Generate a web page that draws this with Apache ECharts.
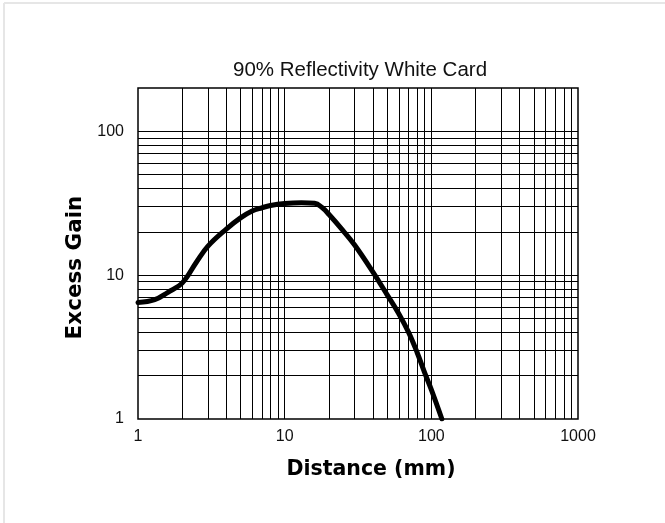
<!DOCTYPE html>
<html>
<head>
<meta charset="utf-8">
<script src="https://cdn.jsdelivr.net/npm/echarts@6/dist/echarts.min.js"></script>
<style>
html,body{margin:0;padding:0;background:#fff;}
#chart{width:665px;height:523px;}
</style>
</head>
<body>
<div id="chart"></div>
<script>
// Data
var distance = [1, 1.3, 1.6, 2, 2.5, 3, 4, 5, 6, 7, 8, 10, 13, 16, 18, 20, 25, 30, 40, 50, 60, 70, 80, 90, 100, 118];
var excessGain = [6.45, 6.75, 7.6, 8.8, 12.3, 15.9, 20.9, 25, 27.9, 29.4, 30.5, 31.5, 31.9, 31.6, 29.5, 26.5, 20.4, 16.2, 10.5, 7.3, 5.4, 4.0, 2.9, 2.1, 1.6, 1];
var xGridValues = [2,3,4,5,6,7,8,9,10,20,30,40,50,60,70,80,90,100,200,300,400,500,600,700,800,900];
var yGridValues = [2,3,4,5,6,7,8,9,10,20,30,40,50,60,70,80,90,100];
var xTickLabels = [1, 10, 100, 1000];
var yTickLabels = [1, 10, 100];

var chart = echarts.init(document.getElementById('chart'), null, {renderer: 'canvas'});

function labelFmt(list) {
  return function (v) {
    for (var i = 0; i < list.length; i++) {
      if (Math.abs(v - list[i]) < 1e-6 * list[i]) return String(list[i]);
    }
    return '';
  };
}

var gridLines = [];
xGridValues.forEach(function (v) { gridLines.push({xAxis: v}); });
yGridValues.forEach(function (v) { gridLines.push({yAxis: v}); });

var option = {
  backgroundColor: '#fff',
  animation: false,
  title: {
    text: '90% Reflectivity White Card',
    left: 228,
    top: 55,
    textStyle: {fontFamily: 'Liberation Sans, Arial, sans-serif', fontSize: 20.5, fontWeight: 'normal', color: '#111'}
  },
  graphic: [
    {type: 'line', shape: {x1: 4, y1: 3, x2: 665, y2: 3}, style: {stroke: '#e6e6e6', lineWidth: 2}, silent: true},
    {type: 'line', shape: {x1: 4, y1: 3, x2: 4, y2: 523}, style: {stroke: '#e6e6e6', lineWidth: 2}, silent: true}
  ],
  grid: {
    left: 138, right: 87, top: 88, bottom: 104,
    show: true, borderColor: '#000', borderWidth: 1.5, backgroundColor: 'transparent'
  },
  xAxis: {
    type: 'log', logBase: 10, min: 1, max: 1000,
    name: 'Distance (mm)', nameLocation: 'middle', nameGap: 40,
    nameTextStyle: {fontFamily: 'DejaVu Sans, sans-serif', fontWeight: 'bold', fontSize: 20.5, color: '#000', padding: [0, 0, 0, 26]},
    axisLine: {show: false}, axisTick: {show: false}, splitLine: {show: false},
    axisLabel: {formatter: labelFmt(xTickLabels), fontFamily: 'Liberation Sans, Arial, sans-serif', fontSize: 16, color: '#111', margin: 10}
  },
  yAxis: {
    type: 'log', logBase: 10, min: 1, max: 200,
    name: 'Excess Gain', nameLocation: 'middle', nameGap: 46,
    nameTextStyle: {fontFamily: 'DejaVu Sans, sans-serif', fontWeight: 'bold', fontSize: 21.5, color: '#000', padding: [0, 28, 0, 0]},
    axisLine: {show: false}, axisTick: {show: false}, splitLine: {show: false},
    axisLabel: {formatter: labelFmt(yTickLabels), fontFamily: 'Liberation Sans, Arial, sans-serif', fontSize: 16, color: '#111', margin: 14}
  },
  series: [
    {
      type: 'line', data: [], z: 1, silent: true,
      markLine: {
        silent: true, symbol: 'none', label: {show: false},
        lineStyle: {color: '#000', width: 1, type: 'solid'},
        emphasis: {disabled: true},
        data: gridLines
      }
    },
    {
      type: 'line', z: 5,
      data: distance.map(function (d, i) { return [d, excessGain[i]]; }),
      smooth: 0.4, showSymbol: false, symbol: 'none',
      lineStyle: {color: '#000', width: 5, cap: 'round', join: 'round'}
    }
  ]
};
chart.setOption(option);
</script>
</body>
</html>
